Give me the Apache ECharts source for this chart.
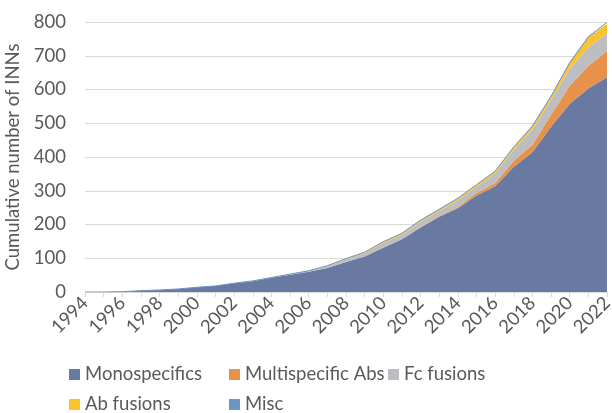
<!DOCTYPE html>
<html>
<head>
<meta charset="utf-8">
<script src="https://cdn.jsdelivr.net/npm/echarts@6/dist/echarts.min.js"></script>
<style>
  html, body { margin: 0; padding: 0; background: #fff; }
  #chart { width: 612px; height: 413px; }
</style>
</head>
<body>
<div id="chart"></div>
<script>
// Cumulative number of INNs per year, by molecule class (stacked)
const years = ['1994','1995','1996','1997','1998','1999','2000','2001','2002','2003','2004','2005','2006','2007','2008','2009','2010','2011','2012','2013','2014','2015','2016','2017','2018','2019','2020','2021','2022'];
const monospecifics = [0,0,1,4,6,9,14,18,26,32,42,51,60,71,89,105,131,156,191,223,248,286,313,371,414,490,558,603,636];
const multispecificAbs = [0,0,0,0,0,0,0,0,0,0,0,0,0,0,0,0,1,1,1,2,4,7,10,18,22,35,53,67,78];
const fcFusions = [0,0,0,0,0,0,0,0,0,1,1,2,3,5,8,10,13,13,16,15,20,19,28,33,45,44,50,55,52];
const abFusions = [0,0,0,0,0,0,0,0,0,0,0,0,0,2,2,3,3,3,4,4,5,5,6,7,9,9,16,28,29];
const misc = [0,0,0,0,0,0,0,0,0,0,0,0,0,0,0,0,1,1,1,1,1,1,1,1,2,2,3,3,4];

const names = ['Monospecifics','Multispecific Abs','Fc fusions','Ab fusions','Misc'];
const values = [monospecifics, multispecificAbs, fcFusions, abFusions, misc];
const colors = ['#687aa1','#e6924a','#bdbec2','#fbc42e','#6f93c2'];

const font = 'Lato, "Liberation Sans", sans-serif';
const textColor = '#595959';

const chart = echarts.init(document.getElementById('chart'), null, { renderer: 'canvas' });

// One legend block per entry so the entries sit in fixed columns
const legendPos = [
  { left: 69, top: 365 },
  { left: 229, top: 365 },
  { left: 388, top: 365 },
  { left: 69, top: 395 },
  { left: 229, top: 395 }
];
const legends = names.map((n, i) => ({
  data: [n],
  left: legendPos[i].left,
  top: legendPos[i].top,
  itemWidth: 11,
  itemHeight: 11,
  itemGap: 0,
  icon: 'rect',
  textStyle: { fontFamily: font, fontSize: 18.5, color: textColor, padding: [0, 0, 0, 0] },
  padding: 0
}));

chart.setOption({
  animation: false,
  backgroundColor: '#ffffff',
  color: colors,
  legend: legends,
  grid: { left: 85, right: 5, top: 22, bottom: 121, containLabel: false, outerBoundsMode: 'none' },
  xAxis: {
    type: 'category',
    data: years,
    boundaryGap: false,
    axisLine: { lineStyle: { color: '#d9d9d9', width: 1 } },
    axisTick: { show: true, interval: 0, length: 5, lineStyle: { color: '#d9d9d9' } },
    axisLabel: {
      interval: 1,
      rotate: 45,
      margin: 8,
      fontFamily: font,
      fontSize: 18.5,
      color: textColor
    },
    splitLine: { show: false }
  },
  yAxis: {
    type: 'value',
    min: 0,
    max: 800,
    interval: 100,
    name: 'Cumulative number of INNs',
    nameLocation: 'middle',
    nameGap: 60,
    nameRotate: 90,
    nameTextStyle: { fontFamily: font, fontSize: 18.5, color: textColor },
    axisLine: { show: false },
    axisTick: { show: false },
    axisLabel: { fontFamily: font, fontSize: 18.5, color: textColor, margin: 19 },
    splitLine: { lineStyle: { color: '#d9d9d9', width: 1 } }
  },
  series: names.map((n, i) => ({
    name: n,
    type: 'line',
    stack: 'total',
    data: values[i],
    symbol: 'none',
    smooth: false,
    lineStyle: { width: i === 4 ? 1 : 0, color: colors[i] },
    areaStyle: { color: colors[i], opacity: 1 },
    itemStyle: { color: colors[i] }
  }))
});
</script>
</body>
</html>
